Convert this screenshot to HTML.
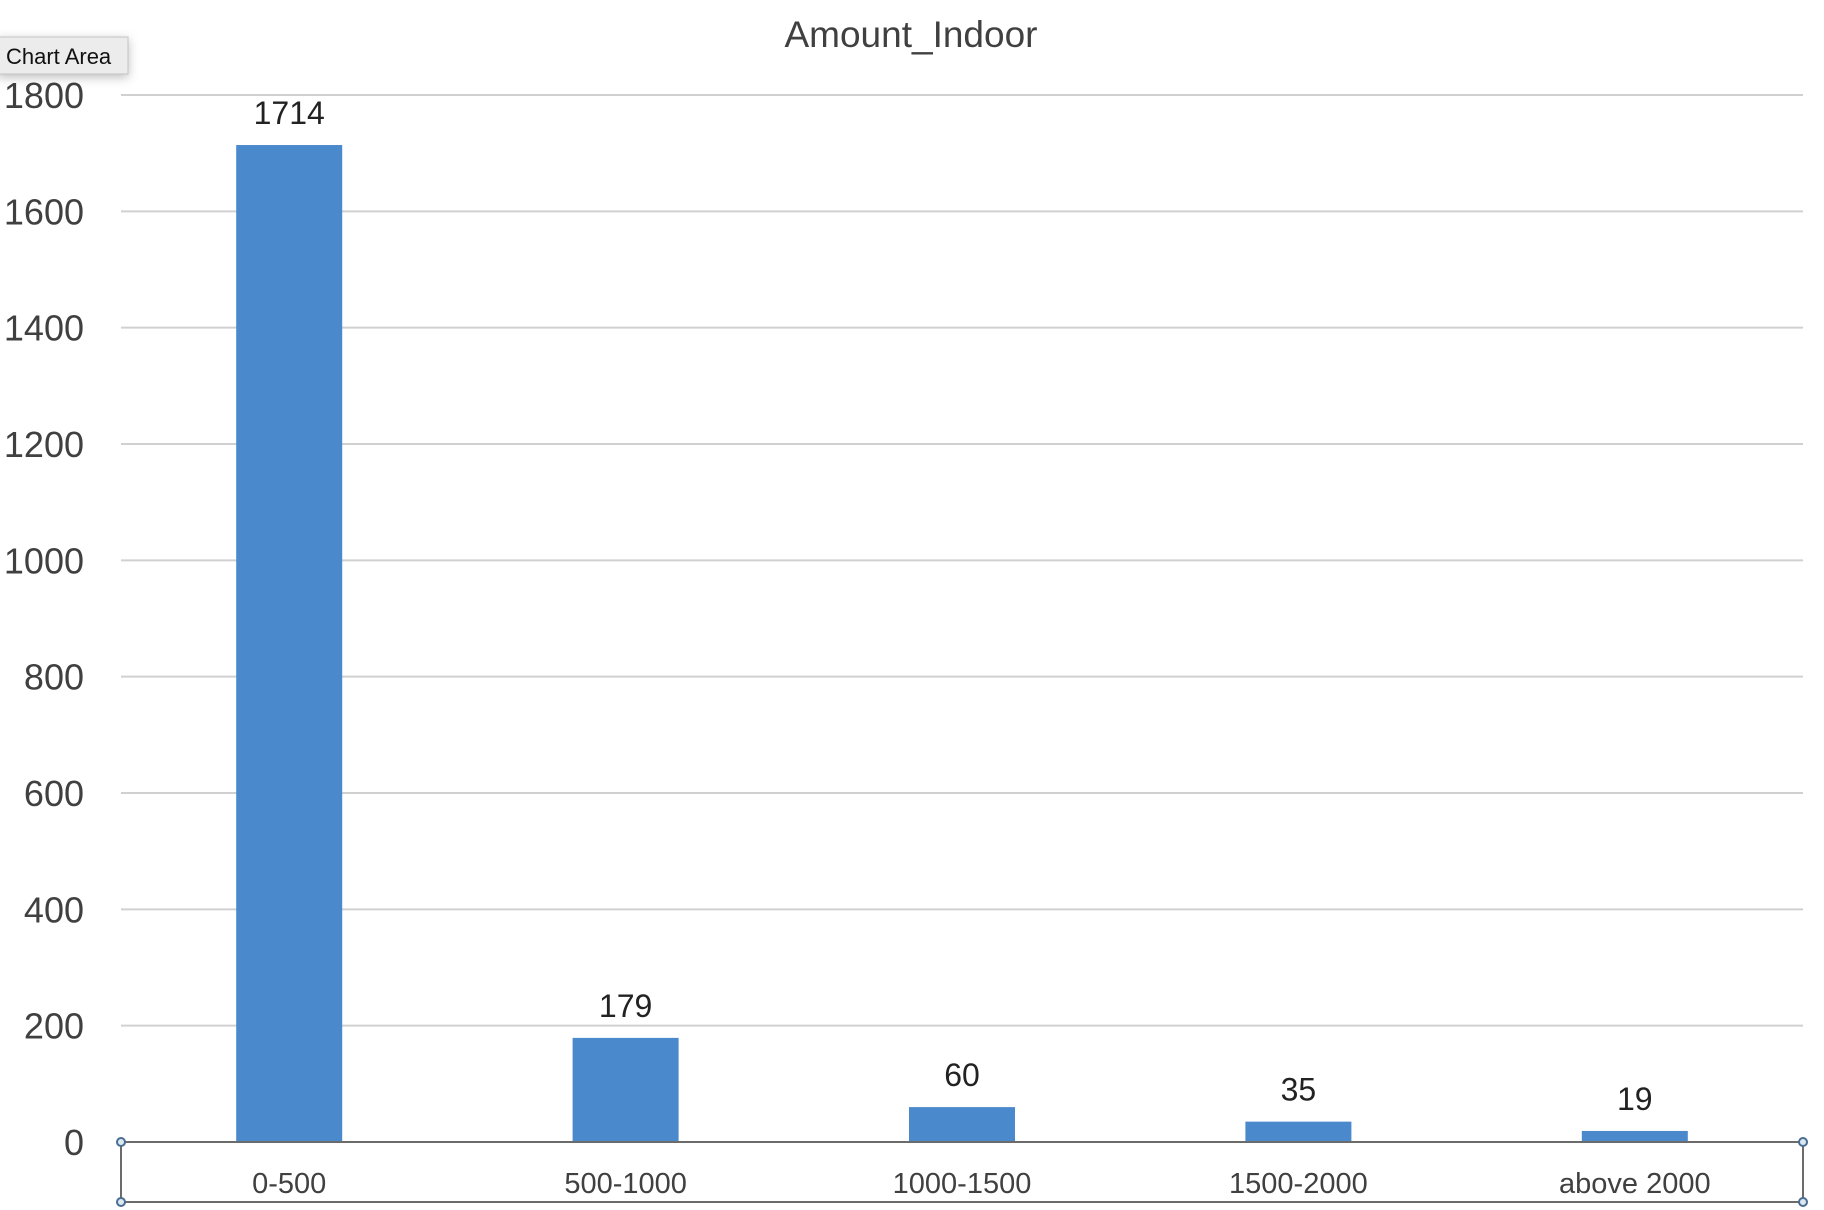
<!DOCTYPE html>
<html><head><meta charset="utf-8"><style>
html,body{margin:0;padding:0;background:#fff;}
svg{display:block;font-family:"Liberation Sans",sans-serif;}
</style></head><body>
<svg id="chart" width="1824" height="1210" viewBox="0 0 1824 1210" xmlns="http://www.w3.org/2000/svg">
<defs><filter id="sh" x="-20%" y="-40%" width="150%" height="200%"><feDropShadow dx="0" dy="3" stdDeviation="5" flood-color="#000" flood-opacity="0.25"/></filter></defs>
<text x="911" y="47" text-anchor="middle" font-size="37" fill="#404040">Amount_Indoor</text>
<g id="grid"></g><g id="bars"></g><g id="labels"></g>
<rect x="121" y="1142" width="1682" height="60" fill="none" stroke="#6b6b6b" stroke-width="2"/>
<g fill="#dbe8f3" stroke="#4a6d91" stroke-width="2">
<circle cx="121" cy="1142" r="4"/>
<circle cx="1803" cy="1142" r="4"/>
<circle cx="121" cy="1202" r="4"/>
<circle cx="1803" cy="1202" r="4"/>
</g>
<g filter="url(#sh)">
<rect x="-2" y="37" width="130" height="37" fill="#ececec" stroke="#c4c4c4" stroke-width="1"/>
</g>
<text x="6" y="64" font-size="22" fill="#111">Chart Area</text>
</svg>
<script>
const categories = ["0-500","500-1000","1000-1500","1500-2000","above 2000"];
const values = [1714,179,60,35,19];
const yTicks = [0,200,400,600,800,1000,1200,1400,1600,1800];
const NS="http://www.w3.org/2000/svg";
const L=121,R=1803,Y0=1142,Y1=95,YMAX=1800;
const y=v=>Y0-(v/YMAX)*(Y0-Y1);
const band=(R-L)/categories.length;
const xc=i=>L+band*(i+0.5);
const BW=106;
function mk(t,a,p){const e=document.createElementNS(NS,t);for(const k in a)e.setAttribute(k,a[k]);p.appendChild(e);return e;}
const grid=document.getElementById('grid'),bars=document.getElementById('bars'),labels=document.getElementById('labels');
yTicks.forEach(t=>{
  if(t>0){const g=mk('line',{x1:L,x2:R,y1:y(t),y2:y(t),stroke:'#d0d0d0','stroke-width':2},grid);
  
  }
  const tx=mk('text',{x:84,y:y(t)+13,'text-anchor':'end','font-size':36,fill:'#404040'},labels);
  tx.textContent=t;
  
  
});
values.forEach((v,i)=>{
  const b=mk('rect',{x:xc(i)-BW/2,y:y(v),width:BW,height:Y0-y(v),fill:'#4a89cc'},bars);
  
  
  const vl=mk('text',{x:xc(i),y:y(v)-21,'text-anchor':'middle','font-size':32,fill:'#222'},labels);
  vl.textContent=v;
  
  
  const cl=mk('text',{x:xc(i),y:1193,'text-anchor':'middle','font-size':29,fill:'#404040'},labels);
  cl.textContent=categories[i];
  
  
});
</script>
</body></html>
